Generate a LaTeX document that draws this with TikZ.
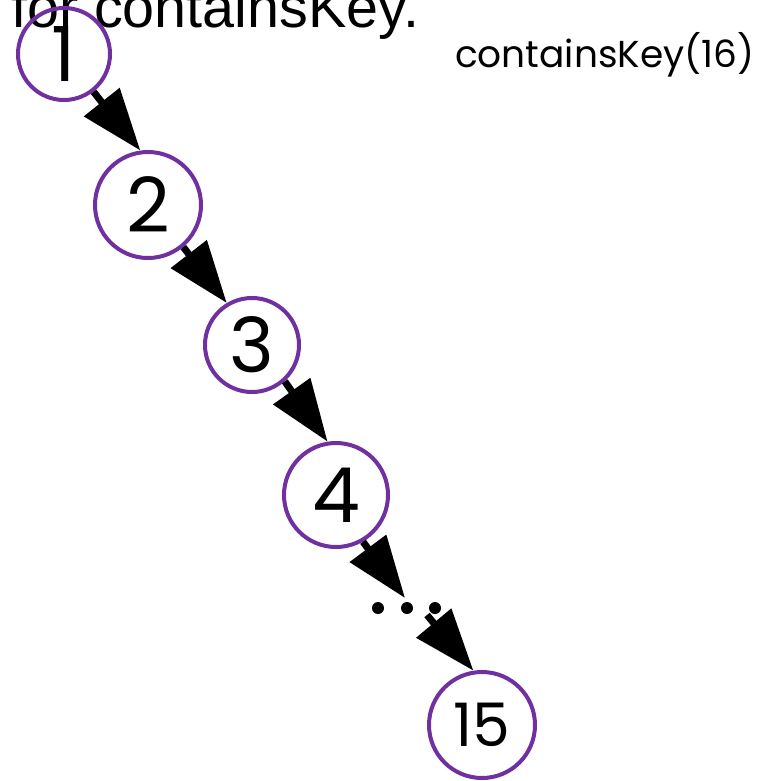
\documentclass[tikz,border=0pt]{standalone}
\usepackage{fontspec}
\setmainfont{Liberation Sans}
\newfontfamily\keyfont{Poppins}
\definecolor{keypurple}{RGB}{112,48,160}
\usepackage{tikz}
\usetikzlibrary{arrows.meta}

\begin{document}
\begin{tikzpicture}[x=1pt, y=-1pt,
    key/.style={circle, draw=keypurple, line width=4pt, inner sep=0pt,
      font=\keyfont\fontsize{76}{76}\selectfont},
    step arrow/.style={line width=7pt, -{Triangle[length=62pt, width=44pt]}},
    dot/.style={fill=black},
  ]
    \useasboundingbox (0,0) rectangle (782,780);
    \node[anchor=base west, inner sep=0pt, font=\fontsize{57.5}{57.5}\selectfont] (title) at (11,27) {for containsKey.};
    \node[anchor=base west, inner sep=0pt, font=\keyfont\fontsize{37.5}{37.5}\selectfont] (call) at (455,67) {containsKey(16)};
    % the chain of keys
    \node[key, minimum size=92pt] (n1) at (64,54) {1};
    \node[key, minimum size=106pt] (n2) at (148,205) {2};
    \node[key, minimum size=94pt] (n3) at (252,345) {3};
    \node[key, minimum size=104pt] (n4) at (336,495) {4};
    \node[key, minimum size=106pt, font=\keyfont\fontsize{60}{60}\selectfont] (n15) at (482,725) {15};
    % the skipped keys
    \fill[dot] (378,608) circle (6pt) (407,608) circle (6pt) (435,608) circle (6pt);
    \coordinate (gapin) at (405,598);
    \coordinate (gapout) at (427,615);
    \draw[step arrow] (n1.-52) -- (n2.98);
    \draw[step arrow] (n2.-50) -- (n3.121);
    \draw[step arrow] (n3.-48) -- (n4.99);
    \draw[step arrow] (n4.-60) -- (gapin);
    \draw[step arrow] (gapout) -- (n15.99);
  \end{tikzpicture}
\end{document}
